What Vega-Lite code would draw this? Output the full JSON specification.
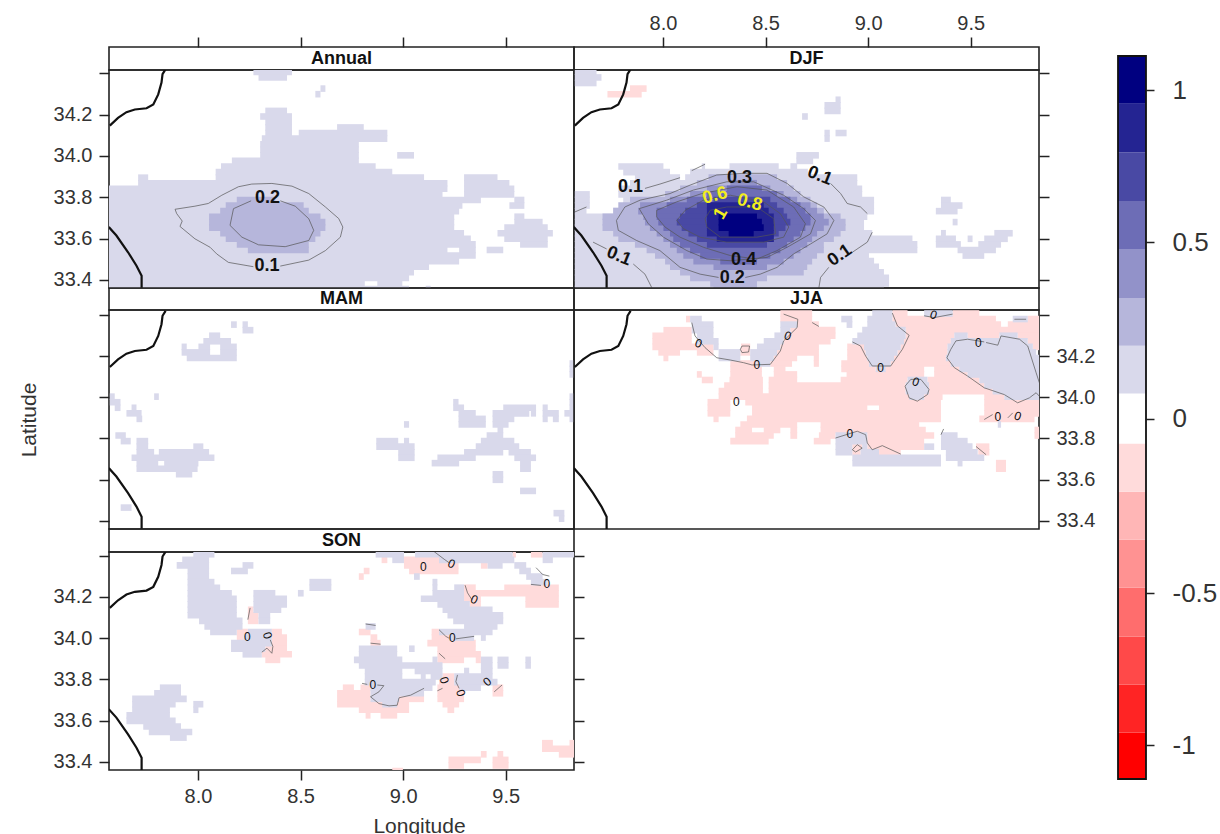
{"$schema":"https://vega.github.io/schema/vega-lite/v6.json","padding":{"left":17,"top":12,"right":0,"bottom":0},"background":"white",
"config":{"view":{"stroke":"#222","strokeWidth":1.6},"axis":{"domain":false,"grid":false,"ticks":true,"tickColor":"#222","tickWidth":1.5,"tickSize":10,"labelFont":"Liberation Sans","labelFontSize":20,"labelColor":"#333","titleFont":"Liberation Sans","titleFontSize":21,"titleFontWeight":"normal","titleColor":"#333","labelPadding":4},"text":{"font":"Liberation Sans"}},
"datasets":{
"A":[
{"lat":34.407,"lon":[8.27],"lon2":[8.458],"v":0.07},{"lat":34.38,"lon":[8.295],"lon2":[8.434],"v":0.07},{"lat":34.326,"lon":[8.597],"lon2":[8.621],"v":0.07},{"lat":34.299,"lon":[8.572],"lon2":[8.597],"v":0.07},{"lat":34.218,"lon":[8.328],"lon2":[8.434],"v":0.07},{"lat":34.191,"lon":[8.303],"lon2":[8.458],"v":0.07},{"lat":34.164,"lon":[8.328],"lon2":[8.458],"v":0.07},{"lat":34.138,"lon":[8.328,8.678],"lon2":[8.458,8.808],"v":0.07},{"lat":34.111,"lon":[8.328,8.491],"lon2":[8.458,8.923],"v":0.07},{"lat":34.084,"lon":[8.311],"lon2":[8.923],"v":0.07},{"lat":34.057,"lon":[8.303],"lon2":[8.784],"v":0.07},{"lat":34.03,"lon":[8.303],"lon2":[8.784],"v":0.07},{"lat":34.003,"lon":[8.303,8.971],"lon2":[8.784,9.053],"v":0.07},{"lat":33.976,"lon":[8.165],"lon2":[8.784],"v":0.07},{"lat":33.949,"lon":[8.112],"lon2":[8.866],"v":0.07},{"lat":33.922,"lon":[8.086],"lon2":[8.947],"v":0.07},{"lat":33.895,"lon":[7.708,8.086,9.297],"lon2":[7.757,9.102,9.46],"v":0.07},{"lat":33.868,"lon":[7.708,9.297],"lon2":[9.216,9.518],"v":0.07},{"lat":33.841,"lon":[7.565,9.297],"lon2":[9.216,9.542],"v":0.07},{"lat":33.814,"lon":[7.565,9.297],"lon2":[9.192,9.542],"v":0.07},{"lat":33.787,"lon":[7.565,9.542],"lon2":[9.379,9.591],"v":0.07},{"lat":33.76,"lon":[7.565,9.518],"lon2":[9.289,9.591],"v":0.07},{"lat":33.733,"lon":[7.565],"lon2":[9.273],"v":0.07},{"lat":33.706,"lon":[7.565,9.542],"lon2":[9.249,9.591],"v":0.07},{"lat":33.68,"lon":[7.565,9.542],"lon2":[9.249,9.68],"v":0.07},{"lat":33.653,"lon":[7.565,9.493],"lon2":[9.249,9.705],"v":0.07},{"lat":33.626,"lon":[7.565,9.46],"lon2":[9.297,9.73],"v":0.07},{"lat":33.599,"lon":[7.565,9.493],"lon2":[9.33,9.705],"v":0.07},{"lat":33.572,"lon":[7.565,9.57],"lon2":[9.354,9.705],"v":0.07},{"lat":33.545,"lon":[7.565,9.273,9.407],"lon2":[9.216,9.354,9.488],"v":0.07},{"lat":33.518,"lon":[7.565],"lon2":[9.354],"v":0.07},{"lat":33.491,"lon":[7.565],"lon2":[9.273],"v":0.07},{"lat":33.464,"lon":[7.565],"lon2":[9.126],"v":0.07},{"lat":33.437,"lon":[7.565],"lon2":[9.053],"v":0.07},{"lat":33.41,"lon":[7.565],"lon2":[9.029],"v":0.07},{"lat":33.383,"lon":[7.565,8.874],"lon2":[8.813,8.996],"v":0.07},{"lat":33.356,"lon":[7.565,9.11],"lon2":[9.029,9.134],"v":0.07},
{"lat":33.787,"lon":[8.189],"lon2":[8.377],"v":0.15},{"lat":33.76,"lon":[8.135],"lon2":[8.515],"v":0.15},{"lat":33.733,"lon":[8.108],"lon2":[8.54],"v":0.15},{"lat":33.706,"lon":[8.054],"lon2":[8.597],"v":0.15},{"lat":33.68,"lon":[8.054],"lon2":[8.621],"v":0.15},{"lat":33.653,"lon":[8.054],"lon2":[8.621],"v":0.15},{"lat":33.626,"lon":[8.108],"lon2":[8.597],"v":0.15},{"lat":33.599,"lon":[8.135],"lon2":[8.572],"v":0.15},{"lat":33.572,"lon":[8.189],"lon2":[8.54],"v":0.15},{"lat":33.545,"lon":[8.243],"lon2":[8.54],"v":0.15}],
"D":[
{"lat":34.407,"lon":[7.57],"lon2":[7.676],"v":0.07},{"lat":34.38,"lon":[7.57],"lon2":[7.7],"v":0.07},{"lat":34.353,"lon":[7.57],"lon2":[7.676],"v":0.07},{"lat":34.326,"lon":[7.839],"lon2":[7.92],"v":-0.07},{"lat":34.299,"lon":[7.729],"lon2":[7.896],"v":-0.07},{"lat":34.272,"lon":[8.841],"lon2":[8.866],"v":0.07},{"lat":34.245,"lon":[8.787],"lon2":[8.866],"v":0.07},{"lat":34.218,"lon":[8.787],"lon2":[8.866],"v":0.07},{"lat":34.191,"lon":[8.678],"lon2":[8.706],"v":0.07},{"lat":34.111,"lon":[8.787,8.841],"lon2":[8.813,8.895],"v":0.07},{"lat":34.084,"lon":[8.787],"lon2":[8.813],"v":0.07},{"lat":34.003,"lon":[8.65],"lon2":[8.76],"v":0.07},{"lat":33.976,"lon":[8.65],"lon2":[8.732],"v":0.07},{"lat":33.949,"lon":[7.782,8.189,8.324,8.621],"lon2":[8.002,8.205,8.564,8.654],"v":0.07},{"lat":33.922,"lon":[7.806,8.132],"lon2":[8.034,8.706],"v":0.07},{"lat":33.895,"lon":[7.863,8.108],"lon2":[8.083,8.947],"v":0.07},{"lat":33.868,"lon":[7.839],"lon2":[8.947],"v":0.07},{"lat":33.841,"lon":[7.782],"lon2":[8.971],"v":0.07},{"lat":33.814,"lon":[7.57,7.782],"lon2":[7.643,8.971],"v":0.07},{"lat":33.787,"lon":[7.57,7.806,9.355],"lon2":[7.643,9.029,9.403],"v":0.07},{"lat":33.76,"lon":[7.57,7.806,9.355],"lon2":[7.643,9.029,9.46],"v":0.07},{"lat":33.733,"lon":[7.57,7.757,9.33],"lon2":[7.627,9.029,9.436],"v":0.07},{"lat":33.706,"lon":[7.57],"lon2":[8.996],"v":0.07},{"lat":33.68,"lon":[7.57,9.412],"lon2":[8.98,9.436],"v":0.07},{"lat":33.653,"lon":[7.57],"lon2":[8.98],"v":0.07},{"lat":33.626,"lon":[7.57,9.355,9.615],"lon2":[9.02,9.379,9.705],"v":0.07},{"lat":33.599,"lon":[7.57,9.33,9.485,9.566],"lon2":[9.216,9.428,9.509,9.681],"v":0.07},{"lat":33.572,"lon":[7.57,9.33,9.537],"lon2":[9.24,9.452,9.648],"v":0.07},{"lat":33.545,"lon":[7.57,9.436],"lon2":[9.24,9.623],"v":0.07},{"lat":33.518,"lon":[7.57,9.46],"lon2":[9.004,9.566],"v":0.07},{"lat":33.491,"lon":[7.57],"lon2":[9.029],"v":0.07},{"lat":33.464,"lon":[7.57],"lon2":[9.053],"v":0.07},{"lat":33.437,"lon":[7.57],"lon2":[9.077],"v":0.07},{"lat":33.41,"lon":[7.57],"lon2":[9.102],"v":0.07},{"lat":33.383,"lon":[7.57],"lon2":[9.102],"v":0.07},{"lat":33.356,"lon":[7.57],"lon2":[9.077],"v":0.07},
{"lat":33.895,"lon":[8.222],"lon2":[8.556],"v":0.15},{"lat":33.868,"lon":[8.165],"lon2":[8.605],"v":0.15},{"lat":33.841,"lon":[8.083],"lon2":[8.637],"v":0.15},{"lat":33.814,"lon":[8.01],"lon2":[8.67],"v":0.15},{"lat":33.787,"lon":[7.839],"lon2":[8.719],"v":0.15},{"lat":33.76,"lon":[7.782],"lon2":[8.751],"v":0.15},{"lat":33.733,"lon":[7.757],"lon2":[8.784],"v":0.15},{"lat":33.706,"lon":[7.705],"lon2":[8.866],"v":0.15},{"lat":33.68,"lon":[7.705],"lon2":[8.89],"v":0.15},{"lat":33.653,"lon":[7.705],"lon2":[8.89],"v":0.15},{"lat":33.626,"lon":[7.757],"lon2":[8.866],"v":0.15},{"lat":33.599,"lon":[7.782],"lon2":[8.833],"v":0.15},{"lat":33.572,"lon":[7.863],"lon2":[8.784],"v":0.15},{"lat":33.545,"lon":[7.92],"lon2":[8.784],"v":0.15},{"lat":33.518,"lon":[7.961],"lon2":[8.751],"v":0.15},{"lat":33.491,"lon":[8.01],"lon2":[8.727],"v":0.15},{"lat":33.464,"lon":[8.034],"lon2":[8.703],"v":0.15},{"lat":33.437,"lon":[8.083],"lon2":[8.686],"v":0.15},{"lat":33.41,"lon":[8.132],"lon2":[8.507],"v":0.15},{"lat":33.383,"lon":[8.23],"lon2":[8.458],"v":0.15},{"lat":33.356,"lon":[8.246],"lon2":[8.458],"v":0.15},
{"lat":33.868,"lon":[8.328],"lon2":[8.458],"v":0.3},{"lat":33.841,"lon":[8.214],"lon2":[8.523],"v":0.3},{"lat":33.814,"lon":[8.132],"lon2":[8.588],"v":0.3},{"lat":33.787,"lon":[8.034],"lon2":[8.654],"v":0.3},{"lat":33.76,"lon":[7.888],"lon2":[8.719],"v":0.3},{"lat":33.733,"lon":[7.879],"lon2":[8.751],"v":0.3},{"lat":33.706,"lon":[7.904],"lon2":[8.784],"v":0.3},{"lat":33.68,"lon":[7.912],"lon2":[8.808],"v":0.3},{"lat":33.653,"lon":[7.936],"lon2":[8.784],"v":0.3},{"lat":33.626,"lon":[7.969],"lon2":[8.751],"v":0.3},{"lat":33.599,"lon":[8.002],"lon2":[8.727],"v":0.3},{"lat":33.572,"lon":[8.034],"lon2":[8.703],"v":0.3},{"lat":33.545,"lon":[8.067],"lon2":[8.67],"v":0.3},{"lat":33.518,"lon":[8.099],"lon2":[8.637],"v":0.3},{"lat":33.491,"lon":[8.148],"lon2":[8.588],"v":0.3},{"lat":33.464,"lon":[8.246],"lon2":[8.507],"v":0.3},
{"lat":33.841,"lon":[8.311],"lon2":[8.482],"v":0.5},{"lat":33.814,"lon":[8.214],"lon2":[8.556],"v":0.5},{"lat":33.787,"lon":[8.116],"lon2":[8.621],"v":0.5},{"lat":33.76,"lon":[8.018],"lon2":[8.67],"v":0.5},{"lat":33.733,"lon":[7.969],"lon2":[8.694],"v":0.5},{"lat":33.706,"lon":[7.969],"lon2":[8.719],"v":0.5},{"lat":33.68,"lon":[7.977],"lon2":[8.719],"v":0.5},{"lat":33.653,"lon":[8.002],"lon2":[8.694],"v":0.5},{"lat":33.626,"lon":[8.034],"lon2":[8.67],"v":0.5},{"lat":33.599,"lon":[8.05],"lon2":[8.637],"v":0.5},{"lat":33.572,"lon":[8.083],"lon2":[8.605],"v":0.5},{"lat":33.545,"lon":[8.132],"lon2":[8.572],"v":0.5},{"lat":33.518,"lon":[8.181],"lon2":[8.523],"v":0.5},{"lat":33.491,"lon":[8.279],"lon2":[8.458],"v":0.5},
{"lat":33.787,"lon":[8.246],"lon2":[8.523],"v":0.7},{"lat":33.76,"lon":[8.165],"lon2":[8.556],"v":0.7},{"lat":33.733,"lon":[8.108],"lon2":[8.588],"v":0.7},{"lat":33.706,"lon":[8.083],"lon2":[8.605],"v":0.7},{"lat":33.68,"lon":[8.067],"lon2":[8.621],"v":0.7},{"lat":33.653,"lon":[8.091],"lon2":[8.597],"v":0.7},{"lat":33.626,"lon":[8.124],"lon2":[8.564],"v":0.7},{"lat":33.599,"lon":[8.165],"lon2":[8.54],"v":0.7},{"lat":33.572,"lon":[8.214],"lon2":[8.507],"v":0.7},
{"lat":33.76,"lon":[8.214],"lon2":[8.491],"v":0.9},{"lat":33.733,"lon":[8.214],"lon2":[8.515],"v":0.9},{"lat":33.706,"lon":[8.214],"lon2":[8.54],"v":0.9},{"lat":33.68,"lon":[8.214],"lon2":[8.54],"v":0.9},{"lat":33.653,"lon":[8.214],"lon2":[8.54],"v":0.9},{"lat":33.626,"lon":[8.214],"lon2":[8.54],"v":0.9},{"lat":33.599,"lon":[8.262],"lon2":[8.54],"v":0.9},
{"lat":33.706,"lon":[8.271],"lon2":[8.458],"v":1.05},{"lat":33.68,"lon":[8.271],"lon2":[8.482],"v":1.05},{"lat":33.653,"lon":[8.271],"lon2":[8.491],"v":1.05},{"lat":33.626,"lon":[8.32],"lon2":[8.442],"v":1.05}],
"M":[
{"lat":34.353,"lon":[8.161,8.217],"lon2":[8.189,8.243],"v":0.07},{"lat":34.326,"lon":[8.217],"lon2":[8.27],"v":0.07},{"lat":34.299,"lon":[8.054],"lon2":[8.108],"v":0.07},{"lat":34.272,"lon":[8.026],"lon2":[8.161],"v":0.07},{"lat":34.245,"lon":[7.92,8.002,8.108],"lon2":[7.945,8.059,8.189],"v":0.07},{"lat":34.218,"lon":[7.92,8.108],"lon2":[8.059,8.189],"v":0.07},{"lat":34.191,"lon":[7.945],"lon2":[8.189],"v":0.07},{"lat":34.164,"lon":[9.811],"lon2":[9.84],"v":0.07},{"lat":34.138,"lon":[9.811],"lon2":[9.84],"v":0.07},{"lat":34.111,"lon":[9.811],"lon2":[9.84],"v":0.07},{"lat":34.003,"lon":[7.57,7.786,9.811],"lon2":[7.594,7.809,9.84],"v":0.07},{"lat":33.976,"lon":[7.57,9.244,9.811],"lon2":[7.622,9.27,9.84],"v":0.07},{"lat":33.949,"lon":[7.594,7.676,9.244,9.488,9.68,9.811],"lon2":[7.622,7.7,9.297,9.648,9.705,9.84],"v":0.07},{"lat":33.922,"lon":[7.651,9.27,9.436,9.623,9.68,9.786],"lon2":[7.725,9.354,9.615,9.648,9.759,9.84],"v":0.07},{"lat":33.895,"lon":[7.7,9.27,9.436,9.68,9.73,9.811],"lon2":[7.728,9.403,9.542,9.705,9.759,9.84],"v":0.07},{"lat":33.868,"lon":[9.004,9.27,9.436],"lon2":[9.029,9.403,9.514],"v":0.07},{"lat":33.841,"lon":[9.46],"lon2":[9.488],"v":0.07},{"lat":33.814,"lon":[7.597,9.407],"lon2":[7.648,9.488],"v":0.07},{"lat":33.787,"lon":[7.623,7.7,8.869,9.004,9.379],"lon2":[7.672,7.757,8.976,9.029,9.542],"v":0.07},{"lat":33.76,"lon":[7.7,7.977,8.869,9.354],"lon2":[7.757,8.026,9.056,9.566],"v":0.07},{"lat":33.733,"lon":[7.7,7.809,8.976,9.297,9.514],"lon2":[7.786,8.054,9.056,9.488,9.623],"v":0.07},{"lat":33.706,"lon":[7.676,8.976,9.167,9.542],"lon2":[8.08,9.056,9.354,9.648],"v":0.07},{"lat":33.68,"lon":[7.7,7.835,9.139,9.57],"lon2":[7.806,8.002,9.273,9.623],"v":0.07},{"lat":33.653,"lon":[7.7,9.57],"lon2":[7.998,9.623],"v":0.07},{"lat":33.626,"lon":[7.892,9.436],"lon2":[7.972,9.488],"v":0.07},{"lat":33.599,"lon":[9.436],"lon2":[9.488],"v":0.07},{"lat":33.545,"lon":[9.57],"lon2":[9.648],"v":0.07},{"lat":33.464,"lon":[7.623],"lon2":[7.676],"v":0.07},{"lat":33.437,"lon":[9.733],"lon2":[9.786],"v":0.07},{"lat":33.41,"lon":[9.759],"lon2":[9.786],"v":0.07}],
"J":[
{"lat":34.407,"lon":[8.572,9.118,9.412],"lon2":[8.727,9.192,9.542],"v":-0.07},{"lat":34.38,"lon":[8.112,8.572,9.118,9.778],"lon2":[8.132,8.727,9.623,9.835],"v":-0.07},{"lat":34.353,"lon":[8.654,9.134,9.681],"lon2":[8.76,9.648,9.835],"v":-0.07},{"lat":34.326,"lon":[8.002,8.621,9.183],"lon2":[8.14,8.841,9.835],"v":-0.07},{"lat":34.299,"lon":[7.948,8.605,9.183,9.485,9.729],"lon2":[8.14,8.841,9.42,9.64,9.835],"v":-0.07},{"lat":34.272,"lon":[7.948,8.588,9.175,9.778],"lon2":[8.14,8.817,9.403,9.835],"v":-0.07},{"lat":34.245,"lon":[7.948,8.38,8.572,8.898,9.159,9.803],"lon2":[8.246,8.425,8.76,8.98,9.387,9.835],"v":-0.07},{"lat":34.218,"lon":[7.977,8.165,8.377,8.556,8.898,9.143],"lon2":[8.083,8.246,8.425,8.76,8.988,9.387],"v":-0.07},{"lat":34.191,"lon":[8.002,8.54,8.735,8.898,9.126],"lon2":[8.026,8.654,8.76,8.996,9.379],"v":-0.07},{"lat":34.164,"lon":[8.328,8.523,8.735,8.869,9.11],"lon2":[8.458,8.629,8.76,9.004,9.403],"v":-0.07},{"lat":34.138,"lon":[8.328,8.54,8.869,9.086,9.322],"lon2":[8.482,8.597,9.037,9.273,9.444],"v":-0.07},{"lat":34.111,"lon":[8.165,8.328,8.54,8.895,9.322],"lon2":[8.189,8.482,8.654,9.273,9.485],"v":-0.07},{"lat":34.084,"lon":[8.189,8.324,8.515,8.866,9.289],"lon2":[8.243,8.487,8.654,9.192,9.542],"v":-0.07},{"lat":34.057,"lon":[8.298,8.515,9.297],"lon2":[8.487,9.183,9.566],"v":-0.07},{"lat":34.03,"lon":[8.271,8.515,9.297],"lon2":[8.487,9.183,9.607],"v":-0.07},{"lat":34.003,"lon":[8.271,9.273,9.566],"lon2":[9.2,9.363,9.664],"v":-0.07},{"lat":33.976,"lon":[8.217,8.401,9.566],"lon2":[8.328,9.355,9.835],"v":-0.07},{"lat":33.949,"lon":[8.217,8.434,9.053,9.566],"lon2":[8.328,8.996,9.355,9.835],"v":-0.07},{"lat":33.922,"lon":[8.217,8.434,9.566],"lon2":[8.328,9.355,9.835],"v":-0.07},{"lat":33.895,"lon":[8.246,8.409,9.542],"lon2":[8.271,9.355,9.811],"v":-0.07},{"lat":33.868,"lon":[8.377,8.768],"lon2":[8.654,9.249],"v":-0.07},{"lat":33.841,"lon":[8.352,8.491,8.621,8.768,9.811],"lon2":[8.434,8.572,8.654,9.281,9.835],"v":-0.07},{"lat":33.814,"lon":[8.352,8.621,8.76,8.996,9.811],"lon2":[8.54,8.654,8.841,9.322,9.835],"v":-0.07},{"lat":33.787,"lon":[8.328,8.735,8.996],"lon2":[8.515,8.817,9.273],"v":-0.07},{"lat":33.76,"lon":[8.923,8.996,9.526],"lon2":[8.971,9.273,9.591],"v":-0.07},{"lat":33.733,"lon":[8.923,9.053,9.537],"lon2":[8.963,9.159,9.591],"v":-0.07},{"lat":33.68,"lon":[9.623],"lon2":[9.672],"v":-0.07},{"lat":33.653,"lon":[9.623],"lon2":[9.672],"v":-0.07},
{"lat":34.407,"lon":[9.02,9.273],"lon2":[9.118,9.412],"v":0.07},{"lat":34.38,"lon":[8.132,8.869,8.996,9.705],"lon2":[8.189,8.923,9.118,9.778],"v":0.07},{"lat":34.353,"lon":[8.14,8.572,8.895,8.996],"lon2":[8.246,8.654,8.923,9.134],"v":0.07},{"lat":34.326,"lon":[8.14,8.572,8.971],"lon2":[8.246,8.621,9.183],"v":0.07},{"lat":34.299,"lon":[8.165,8.543,8.947,9.42,9.64],"lon2":[8.246,8.605,9.183,9.485,9.729],"v":0.07},{"lat":34.272,"lon":[8.165,8.491,8.923,9.403],"lon2":[8.271,8.588,9.175,9.778],"v":0.07},{"lat":34.245,"lon":[8.246,8.458,8.98,9.387],"lon2":[8.271,8.572,9.159,9.803],"v":0.07},{"lat":34.218,"lon":[8.271,8.425,8.988,9.387],"lon2":[8.377,8.556,9.143,9.819],"v":0.07},{"lat":34.191,"lon":[8.271,8.425,8.996,9.379],"lon2":[8.377,8.54,9.126,9.835],"v":0.07},{"lat":34.164,"lon":[8.458,9.004,9.403],"lon2":[8.523,9.11,9.835],"v":0.07},{"lat":34.138,"lon":[9.037,9.444],"lon2":[9.086,9.835],"v":0.07},{"lat":34.111,"lon":[9.485],"lon2":[9.835],"v":0.07},{"lat":34.084,"lon":[9.192,9.542],"lon2":[9.289,9.835],"v":0.07},{"lat":34.057,"lon":[9.183,9.566],"lon2":[9.297,9.835],"v":0.07},{"lat":34.03,"lon":[9.183,9.607],"lon2":[9.297,9.835],"v":0.07},{"lat":34.003,"lon":[9.2,9.664],"lon2":[9.273,9.835],"v":0.07},{"lat":33.868,"lon":[9.632],"lon2":[9.648],"v":0.07},{"lat":33.814,"lon":[8.841,9.355],"lon2":[8.996,9.436],"v":0.07},{"lat":33.787,"lon":[8.841,9.355],"lon2":[8.996,9.485],"v":0.07},{"lat":33.76,"lon":[8.841,8.971,9.273,9.355],"lon2":[8.923,8.996,9.322,9.509],"v":0.07},{"lat":33.733,"lon":[8.841,8.963,9.379],"lon2":[8.923,9.053,9.534],"v":0.07},{"lat":33.706,"lon":[8.923,9.379],"lon2":[9.355,9.566],"v":0.07},{"lat":33.68,"lon":[8.923,9.436],"lon2":[9.355,9.46],"v":0.07}],
"S":[
{"lat":34.407,"lon":[9.534,9.623],"lon2":[9.55,9.68],"v":-0.07},{"lat":34.38,"lon":[8.895,9.004],"lon2":[8.923,9.175],"v":-0.07},{"lat":34.353,"lon":[9.004,9.379],"lon2":[9.27,9.412],"v":-0.07},{"lat":34.326,"lon":[8.808,9.029],"lon2":[8.836,9.27],"v":-0.07},{"lat":34.299,"lon":[8.784],"lon2":[8.808],"v":-0.07},{"lat":34.245,"lon":[9.297,9.493],"lon2":[9.354,9.759],"v":-0.07},{"lat":34.218,"lon":[9.297],"lon2":[9.759],"v":-0.07},{"lat":34.191,"lon":[9.297,9.596],"lon2":[9.379,9.759],"v":-0.07},{"lat":34.164,"lon":[9.325,9.596],"lon2":[9.379,9.759],"v":-0.07},{"lat":34.138,"lon":[8.243],"lon2":[8.27],"v":-0.07},{"lat":34.111,"lon":[8.243],"lon2":[8.295],"v":-0.07},{"lat":34.084,"lon":[8.243],"lon2":[8.295],"v":-0.07},{"lat":34.03,"lon":[8.189,8.36,8.784,9.139],"lon2":[8.243,8.409,8.841,9.175],"v":-0.07},{"lat":34.003,"lon":[8.189,8.36,8.841,9.139],"lon2":[8.222,8.434,8.874,9.224],"v":-0.07},{"lat":33.976,"lon":[8.36,8.841,9.118],"lon2":[8.434,8.89,9.354],"v":-0.07},{"lat":33.949,"lon":[8.328,9.167],"lon2":[8.434,9.354],"v":-0.07},{"lat":33.922,"lon":[8.311,9.167],"lon2":[8.458,9.379],"v":-0.07},{"lat":33.895,"lon":[8.328,9.167,9.354],"lon2":[8.401,9.297,9.379],"v":-0.07},{"lat":33.814,"lon":[9.192],"lon2":[9.249],"v":-0.07},{"lat":33.787,"lon":[9.175],"lon2":[9.249],"v":-0.07},{"lat":33.76,"lon":[8.706,8.792,9.167,9.436],"lon2":[8.76,8.841,9.273,9.488],"v":-0.07},{"lat":33.733,"lon":[8.678,9.167,9.436],"lon2":[8.841,9.297,9.488],"v":-0.07},{"lat":33.706,"lon":[8.678,8.98,9.167],"lon2":[8.841,9.102,9.297],"v":-0.07},{"lat":33.68,"lon":[8.678,9.192],"lon2":[9.029,9.273],"v":-0.07},{"lat":33.653,"lon":[8.784,9.216],"lon2":[9.029,9.249],"v":-0.07},{"lat":33.626,"lon":[8.817,8.89],"lon2":[8.841,8.971],"v":-0.07},{"lat":33.491,"lon":[9.677,9.811],"lon2":[9.73,9.84],"v":-0.07},{"lat":33.464,"lon":[9.677],"lon2":[9.84],"v":-0.07},{"lat":33.437,"lon":[9.379,9.46,9.759],"lon2":[9.407,9.488,9.84],"v":-0.07},{"lat":33.41,"lon":[9.221,9.436],"lon2":[9.379,9.514],"v":-0.07},{"lat":33.383,"lon":[9.221,9.436],"lon2":[9.297,9.514],"v":-0.07},{"lat":33.356,"lon":[8.947],"lon2":[8.999],"v":-0.07},
{"lat":34.407,"lon":[7.977,8.866,9.058,9.68],"lon2":[8.08,9.004,9.534,9.84],"v":0.07},{"lat":34.38,"lon":[7.923,8.947,9.175,9.68],"lon2":[8.054,9.004,9.542,9.73],"v":0.07},{"lat":34.353,"lon":[7.896,8.217,9.412,9.542],"lon2":[8.054,8.27,9.485,9.6],"v":0.07},{"lat":34.326,"lon":[7.949,8.161,9.566],"lon2":[8.054,8.243,9.623],"v":0.07},{"lat":34.299,"lon":[7.949,9.053,9.6],"lon2":[8.054,9.081,9.68],"v":0.07},{"lat":34.272,"lon":[7.949,8.543,9.143,9.623],"lon2":[8.08,8.65,9.167,9.705],"v":0.07},{"lat":34.245,"lon":[7.949,8.543,9.143,9.249],"lon2":[8.108,8.65,9.167,9.297],"v":0.07},{"lat":34.218,"lon":[7.949,8.27,8.487,9.143],"lon2":[8.165,8.377,8.515,9.297],"v":0.07},{"lat":34.191,"lon":[7.949,8.27,9.086],"lon2":[8.189,8.434,9.297],"v":0.07},{"lat":34.164,"lon":[7.949,8.27,9.167],"lon2":[8.189,8.434,9.325],"v":0.07},{"lat":34.138,"lon":[7.949,8.27,9.192],"lon2":[8.189,8.406,9.436],"v":0.07},{"lat":34.111,"lon":[7.949,8.295,9.216],"lon2":[8.189,8.352,9.488],"v":0.07},{"lat":34.084,"lon":[8.005,8.295,9.244],"lon2":[8.217,8.352,9.488],"v":0.07},{"lat":34.057,"lon":[8.031,8.817,9.297],"lon2":[8.217,8.866,9.46],"v":0.07},{"lat":34.03,"lon":[8.059,8.243,9.175],"lon2":[8.189,8.36,9.436],"v":0.07},{"lat":34.003,"lon":[8.222,9.224,9.379],"lon2":[8.36,9.346,9.403],"v":0.07},{"lat":33.976,"lon":[8.161],"lon2":[8.36],"v":0.07},{"lat":33.949,"lon":[8.161,8.784,9.029],"lon2":[8.328,8.971,9.056],"v":0.07},{"lat":33.922,"lon":[8.217,8.784],"lon2":[8.311,8.971],"v":0.07},{"lat":33.895,"lon":[8.76,9.143,9.379,9.46,9.596],"lon2":[8.996,9.167,9.436,9.514,9.623],"v":0.07},{"lat":33.868,"lon":[8.784,9.379,9.46,9.596],"lon2":[9.192,9.436,9.514,9.623],"v":0.07},{"lat":33.841,"lon":[8.813,9.056,9.297,9.379],"lon2":[8.996,9.192,9.322,9.436],"v":0.07},{"lat":33.814,"lon":[8.813,9.086,9.134,9.249],"lon2":[8.996,9.11,9.192,9.436],"v":0.07},{"lat":33.787,"lon":[8.813,9.249],"lon2":[9.159,9.46],"v":0.07},{"lat":33.76,"lon":[7.814,8.841,9.273],"lon2":[7.917,9.143,9.379],"v":0.07},{"lat":33.733,"lon":[7.786,8.841],"lon2":[7.917,9.102],"v":0.07},{"lat":33.706,"lon":[7.679,8.841],"lon2":[7.945,8.98],"v":0.07},{"lat":33.68,"lon":[7.679,7.977,8.898],"lon2":[7.891,8.026,8.971],"v":0.07},{"lat":33.653,"lon":[7.679,7.977],"lon2":[7.863,8.002],"v":0.07},{"lat":33.626,"lon":[7.651],"lon2":[7.863],"v":0.07},{"lat":33.599,"lon":[7.651],"lon2":[7.891],"v":0.07},{"lat":33.572,"lon":[7.733],"lon2":[7.917],"v":0.07},{"lat":33.545,"lon":[7.76],"lon2":[7.972],"v":0.07},{"lat":33.518,"lon":[7.863],"lon2":[7.945],"v":0.07}],
"K":[{"id":"n","lon":[7.842,7.827,7.822,7.806,7.782,7.749,7.692,7.651,7.61,7.57],"lat":[34.42,34.396,34.355,34.298,34.249,34.231,34.225,34.212,34.184,34.147]},{"id":"s","lon":[7.565,7.602,7.659,7.7,7.725,7.725],"lat":[33.656,33.615,33.534,33.469,33.42,33.355]}],
"C":[
{"p":"A","id":"a1","lon":[8.401,8.54,8.621,8.694,8.706,8.686,8.621,8.54,8.458,8.36,8.262,8.197,8.116,8.05,7.985,7.888,7.896,7.923,7.912,7.985,8.059,8.091,8.148,8.27],"lat":[33.467,33.496,33.542,33.607,33.656,33.697,33.753,33.818,33.854,33.867,33.864,33.851,33.81,33.77,33.757,33.742,33.721,33.685,33.659,33.599,33.558,33.526,33.485,33.464]},
{"p":"A","id":"a2","lon":[8.259,8.173,8.156,8.214,8.295,8.425,8.54,8.564,8.54,8.474,8.401],"lat":[33.783,33.745,33.664,33.607,33.57,33.561,33.591,33.64,33.696,33.757,33.783]},
{"p":"D","id":"d1","lon":[7.912,7.985,8.083],"lat":[33.843,33.864,33.895]},{"p":"D","id":"d2","lon":[8.14,8.205],"lat":[33.929,33.96]},{"p":"D","id":"d3","lon":[8.817,8.866,8.898,8.963,8.996],"lat":[33.867,33.818,33.77,33.753,33.721]},{"p":"D","id":"d4","lon":[9.02,8.996,8.923],"lat":[33.631,33.583,33.534]},{"p":"D","id":"d5","lon":[8.808,8.768,8.76],"lat":[33.461,33.412,33.363]},{"p":"D","id":"d6","lon":[7.57,7.627],"lat":[33.729,33.753]},{"p":"D","id":"d7","lon":[7.659,7.725],"lat":[33.583,33.55]},{"p":"D","id":"d8","lon":[7.855,7.912,7.945],"lat":[33.477,33.428,33.363]},
{"p":"D","id":"d9","lon":[8.271,8.181,8.083,7.985,7.871,7.782,7.773,7.814,7.888,8.034,8.132,8.262,8.393,8.507,8.605,8.686,8.784,8.833,8.8,8.719,8.637,8.556,8.474,8.401],"lat":[33.412,33.428,33.461,33.542,33.591,33.64,33.688,33.753,33.786,33.818,33.859,33.908,33.916,33.916,33.867,33.802,33.753,33.688,33.623,33.574,33.526,33.461,33.428,33.412]},
{"p":"D","id":"d10","lon":[7.884,8.018,8.148,8.311,8.442,8.588,8.686,8.743,8.719,8.605,8.507,8.328,8.214,8.116,8.002,7.928,7.884],"lat":[33.745,33.786,33.835,33.875,33.875,33.81,33.745,33.688,33.623,33.558,33.509,33.493,33.501,33.542,33.607,33.672,33.745]},
{"p":"D","id":"d11","lon":[7.969,8.067,8.189,8.36,8.507,8.637,8.694,8.67,8.556,8.458,8.328,8.197,8.083,8.01,7.969,7.969],"lat":[33.737,33.778,33.818,33.851,33.835,33.753,33.672,33.607,33.542,33.501,33.518,33.558,33.607,33.656,33.705,33.737]},
{"p":"D","id":"d12","lon":[8.067,8.108,8.197,8.328,8.491,8.572,8.613,8.588,8.491,8.311,8.181,8.099,8.067],"lat":[33.688,33.737,33.786,33.81,33.778,33.721,33.656,33.607,33.583,33.583,33.607,33.648,33.688]},
{"p":"D","id":"d13","lon":[8.205,8.23,8.311,8.458,8.54,8.548,8.458,8.279,8.214,8.205],"lat":[33.696,33.737,33.753,33.753,33.696,33.623,33.607,33.607,33.656,33.696]},
{"p":"J","id":"j1","lon":[8.14,8.156,8.205,8.262,8.328,8.393,8.434,8.523,8.572,8.588,8.654,8.657,8.588],"lat":[34.363,34.298,34.241,34.192,34.181,34.168,34.157,34.16,34.225,34.274,34.339,34.379,34.404]},
{"p":"J","id":"j2","lon":[8.377,8.385,8.417,8.422,8.385,8.377],"lat":[34.233,34.217,34.22,34.249,34.249,34.233]},
{"p":"J","id":"j3","lon":[9.118,9.143,9.2,9.167,9.11,9.02,8.988,8.963,8.923],"lat":[34.409,34.347,34.301,34.233,34.152,34.152,34.2,34.249,34.269]},
{"p":"J","id":"j4","lon":[9.566,9.485,9.428,9.403,9.384,9.42,9.485,9.566,9.664,9.729,9.786,9.819,9.835],"lat":[34.269,34.282,34.274,34.233,34.192,34.144,34.103,34.046,34.013,33.973,33.997,34.022,34.005]},
{"p":"J","id":"j5","lon":[9.835,9.819,9.778,9.738,9.648,9.632,9.575],"lat":[34.07,34.119,34.249,34.282,34.298,34.253,34.266]},
{"p":"J","id":"j6","lon":[9.208,9.18,9.2,9.24,9.289,9.297,9.257,9.208],"lat":[34.087,34.054,33.997,33.981,34.013,34.038,34.087,34.087]},
{"p":"J","id":"j7","lon":[8.841,8.947,8.988,8.996,9.02,9.069,9.159],"lat":[33.802,33.835,33.818,33.778,33.745,33.765,33.724]},
{"p":"J","id":"j8","lon":[8.923,8.947,8.971,8.939,8.923],"lat":[33.745,33.77,33.753,33.734,33.745]},
{"p":"J","id":"j9","lon":[9.273,9.322,9.412],"lat":[34.396,34.387,34.404]},{"p":"J","id":"j10","lon":[9.526,9.575],"lat":[33.761,33.721]},{"p":"J","id":"j11","lon":[9.355,9.368],"lat":[33.818,33.846]},{"p":"J","id":"j12","lon":[9.713,9.77],"lat":[34.379,34.379]},{"p":"J","id":"j13","lon":[9.566,9.607],"lat":[33.892,33.916]},{"p":"J","id":"j14","lon":[9.681,9.705],"lat":[33.9,33.924]},{"p":"J","id":"j15","lon":[8.727,8.76],"lat":[34.363,34.344]},
{"p":"S","id":"s1","lon":[9.151,9.2,9.224],"lat":[34.42,34.383,34.366]},{"p":"S","id":"s2","lon":[9.302,9.314,9.335],"lat":[34.257,34.22,34.187]},{"p":"S","id":"s3","lon":[9.648,9.68,9.713],"lat":[34.342,34.309,34.301]},{"p":"S","id":"s4","lon":[9.623,9.672],"lat":[34.261,34.256]},{"p":"S","id":"s5","lon":[9.175,9.208,9.224],"lat":[34.041,34.009,34.0]},{"p":"S","id":"s6","lon":[9.257,9.346],"lat":[33.997,34.009]},{"p":"S","id":"s7","lon":[8.8,8.825],"lat":[33.781,33.776]},
{"p":"S","id":"s8","lon":[8.874,8.906,8.882,8.841,8.882,8.931,8.971,8.98,9.037,9.102],"lat":[33.773,33.77,33.74,33.716,33.683,33.672,33.675,33.711,33.724,33.757]},
{"p":"S","id":"s9","lon":[8.311,8.336,8.36,8.365,8.352],"lat":[33.932,33.952,33.927,33.96,33.992]},{"p":"S","id":"s10","lon":[9.444,9.482],"lat":[33.74,33.773]},{"p":"S","id":"s11","lon":[8.817,8.866],"lat":[34.069,34.062]},{"p":"S","id":"s12","lon":[8.841,8.89],"lat":[33.976,33.971]},{"p":"S","id":"s13","lon":[8.243,8.254],"lat":[34.09,34.147]},{"p":"S","id":"s14","lon":[9.265,9.257,9.273],"lat":[33.822,33.789,33.757]},{"p":"S","id":"s15","lon":[9.192,9.167],"lat":[33.757,33.745]},{"p":"S","id":"s16","lon":[9.175,9.205],"lat":[33.927,33.9]}],
"B":[{"lo":-1.2,"hi":-0.95,"v":-1.05},{"lo":-0.95,"hi":-0.8,"v":-0.9},{"lo":-0.8,"hi":-0.6,"v":-0.7},{"lo":-0.6,"hi":-0.4,"v":-0.5},{"lo":-0.4,"hi":-0.2,"v":-0.3},{"lo":-0.2,"hi":-0.1,"v":-0.15},{"lo":-0.1,"hi":-0.05,"v":-0.07},{"lo":-0.05,"hi":0.05,"v":0},{"lo":0.05,"hi":0.1,"v":0.07},{"lo":0.1,"hi":0.2,"v":0.15},{"lo":0.2,"hi":0.4,"v":0.3},{"lo":0.4,"hi":0.6,"v":0.5},{"lo":0.6,"hi":0.8,"v":0.7},{"lo":0.8,"hi":0.95,"v":0.9},{"lo":0.95,"hi":1.2,"v":1.05}]
},
"hconcat":[
{"columns":2,"spacing":0,"bounds":"flush","align":"each","concat":[
{"width":465,"height":23,"data":{"values":[{"lon":8.7,"t":"Annual"}]},"mark":{"type":"text","fontWeight":"bold","fontSize":18,"color":"#111"},"encoding":{"text":{"field":"t"},"x":{"field":"lon","type":"quantitative","scale":{"domain":[7.566,9.833],"nice":false,"zero":false},"axis":{"orient":"top","values":[8,8.5,9,9.5],"labels":false,"title":null}}}},
{"width":465,"height":23,"data":{"values":[{"lon":8.7,"t":"DJF"}]},"mark":{"type":"text","fontWeight":"bold","fontSize":18,"color":"#111"},"encoding":{"text":{"field":"t"},"x":{"field":"lon","type":"quantitative","scale":{"domain":[7.566,9.833],"nice":false,"zero":false},"axis":{"orient":"top","values":[8,8.5,9,9.5],"format":".1f","title":null}}}},
{"width":465,"height":218,"encoding":{"x":{"field":"lon","type":"quantitative","scale":{"domain":[7.566,9.833],"nice":false,"zero":false},"axis":null},"y":{"field":"lat","type":"quantitative","scale":{"domain":[33.361,34.416],"nice":false,"zero":false},"axis":{"orient":"left","values":[33.4,33.6,33.8,34,34.2,34.4],"labelPadding":7,"labelExpr":"datum.value>34.3?'':format(datum.value,'.1f')","title":null}}},
"layer":[
{"data":{"name":"A"},"transform":[{"flatten":["lon","lon2"]}],"mark":{"type":"rect","height":6.6,"clip":true},"encoding":{"x2":{"field":"lon2"},"color":{"field":"v","type":"quantitative","legend":null,"scale":{"type":"threshold","domain":[-0.95,-0.8,-0.6,-0.4,-0.2,-0.1,-0.05,0.05,0.1,0.2,0.4,0.6,0.8,0.95],"range":["#ff0000","#ff2424","#ff4949","#ff6d6d","#ff9292","#ffb6b6","#ffdbdb","#ffffff","#d9d9eb","#b6b6db","#9292c9","#6d6db6","#4949a4","#242492","#000080"]}}}},
{"data":{"name":"C"},"transform":[{"filter":"datum.p=='A'"},{"flatten":["lon","lat"]},{"window":[{"op":"row_number","as":"o"}]}],"mark":{"type":"line","stroke":"#555","strokeWidth":0.7,"clip":true},"encoding":{"detail":{"field":"id"},"order":{"field":"o"}}},
{"data":{"name":"K"},"transform":[{"flatten":["lon","lat"]},{"window":[{"op":"row_number","as":"o"}]}],"mark":{"type":"line","stroke":"#111","strokeWidth":2.2,"clip":true},"encoding":{"detail":{"field":"id"},"order":{"field":"o"}}},
{"data":{"values":[{"lon":8.339,"lat":33.797,"t":"0.2"},{"lon":8.336,"lat":33.467,"t":"0.1"}]},"mark":{"type":"text","fontSize":18,"fontWeight":"bold","color":"#111"},"encoding":{"text":{"field":"t"}}}
]},
{"width":465,"height":218,"encoding":{"x":{"field":"lon","type":"quantitative","scale":{"domain":[7.566,9.833],"nice":false,"zero":false},"axis":null},"y":{"field":"lat","type":"quantitative","scale":{"domain":[33.361,34.416],"nice":false,"zero":false},"axis":{"orient":"right","values":[33.4,33.6,33.8,34,34.2,34.4],"labels":false,"title":null}}},
"layer":[
{"data":{"name":"D"},"transform":[{"flatten":["lon","lon2"]}],"mark":{"type":"rect","height":6.6,"clip":true},"encoding":{"x2":{"field":"lon2"},"color":{"field":"v","type":"quantitative","legend":null,"scale":{"type":"threshold","domain":[-0.95,-0.8,-0.6,-0.4,-0.2,-0.1,-0.05,0.05,0.1,0.2,0.4,0.6,0.8,0.95],"range":["#ff0000","#ff2424","#ff4949","#ff6d6d","#ff9292","#ffb6b6","#ffdbdb","#ffffff","#d9d9eb","#b6b6db","#9292c9","#6d6db6","#4949a4","#242492","#000080"]}}}},
{"data":{"name":"C"},"transform":[{"filter":"datum.p=='D'"},{"flatten":["lon","lat"]},{"window":[{"op":"row_number","as":"o"}]}],"mark":{"type":"line","stroke":"#555","strokeWidth":0.7,"clip":true},"encoding":{"detail":{"field":"id"},"order":{"field":"o"}}},
{"data":{"name":"K"},"transform":[{"flatten":["lon","lat"]},{"window":[{"op":"row_number","as":"o"}]}],"mark":{"type":"line","stroke":"#111","strokeWidth":2.2,"clip":true},"encoding":{"detail":{"field":"id"},"order":{"field":"o"}}},
{"data":{"values":[{"lon":7.842,"lat":33.848,"t":"0.1"},{"lon":8.373,"lat":33.892,"t":"0.3"},{"lon":8.393,"lat":33.498,"t":"0.4"},{"lon":8.337,"lat":33.409,"t":"0.2"}]},"mark":{"type":"text","fontSize":18,"fontWeight":"bold","color":"#111"},"encoding":{"text":{"field":"t"}}},
{"data":{"values":[{"lon":8.764,"lat":33.903,"t":"0.1"},{"lon":7.785,"lat":33.514,"t":"0.1"}]},"mark":{"type":"text","fontSize":18,"fontWeight":"bold","color":"#111","angle":22},"encoding":{"text":{"field":"t"}}},
{"data":{"values":[{"lon":8.862,"lat":33.518,"t":"0.1"}]},"mark":{"type":"text","fontSize":18,"fontWeight":"bold","color":"#111","angle":-35},"encoding":{"text":{"field":"t"}}},
{"data":{"values":[{"lon":8.254,"lat":33.807,"t":"0.6"}]},"mark":{"type":"text","fontSize":18,"fontWeight":"bold","color":"#f2ee1e","angle":-15},"encoding":{"text":{"field":"t"}}},
{"data":{"values":[{"lon":8.422,"lat":33.774,"t":"0.8"}]},"mark":{"type":"text","fontSize":18,"fontWeight":"bold","color":"#f2ee1e","angle":15},"encoding":{"text":{"field":"t"}}},
{"data":{"values":[{"lon":8.282,"lat":33.721,"t":"1"}]},"mark":{"type":"text","fontSize":18,"fontWeight":"bold","color":"#f2ee1e","angle":-60},"encoding":{"text":{"field":"t"}}}
]},
{"width":465,"height":22,"data":{"values":[{"lon":8.7,"t":"MAM"}]},"mark":{"type":"text","fontWeight":"bold","fontSize":18,"color":"#111"},"encoding":{"text":{"field":"t"},"x":{"field":"lon","type":"quantitative","scale":{"domain":[7.566,9.833],"nice":false,"zero":false},"axis":null}}},
{"width":465,"height":22,"data":{"values":[{"lon":8.7,"t":"JJA"}]},"mark":{"type":"text","fontWeight":"bold","fontSize":18,"color":"#111"},"encoding":{"text":{"field":"t"},"x":{"field":"lon","type":"quantitative","scale":{"domain":[7.566,9.833],"nice":false,"zero":false},"axis":null}}},
{"width":465,"height":219,"encoding":{"x":{"field":"lon","type":"quantitative","scale":{"domain":[7.566,9.833],"nice":false,"zero":false},"axis":null},"y":{"field":"lat","type":"quantitative","scale":{"domain":[33.36,34.424],"nice":false,"zero":false},"axis":{"orient":"left","values":[33.4,33.6,33.8,34,34.2,34.4],"labels":false,"title":"Latitude","titlePadding":59}}},
"layer":[
{"data":{"name":"M"},"transform":[{"flatten":["lon","lon2"]}],"mark":{"type":"rect","height":6.6,"clip":true},"encoding":{"x2":{"field":"lon2"},"color":{"field":"v","type":"quantitative","legend":null,"scale":{"type":"threshold","domain":[-0.95,-0.8,-0.6,-0.4,-0.2,-0.1,-0.05,0.05,0.1,0.2,0.4,0.6,0.8,0.95],"range":["#ff0000","#ff2424","#ff4949","#ff6d6d","#ff9292","#ffb6b6","#ffdbdb","#ffffff","#d9d9eb","#b6b6db","#9292c9","#6d6db6","#4949a4","#242492","#000080"]}}}},
{"data":{"name":"K"},"transform":[{"flatten":["lon","lat"]},{"window":[{"op":"row_number","as":"o"}]}],"mark":{"type":"line","stroke":"#111","strokeWidth":2.2,"clip":true},"encoding":{"detail":{"field":"id"},"order":{"field":"o"}}}
]},
{"width":465,"height":219,"encoding":{"x":{"field":"lon","type":"quantitative","scale":{"domain":[7.566,9.833],"nice":false,"zero":false},"axis":null},"y":{"field":"lat","type":"quantitative","scale":{"domain":[33.36,34.424],"nice":false,"zero":false},"axis":{"orient":"right","values":[33.4,33.6,33.8,34,34.2,34.4],"labelPadding":7,"labelExpr":"datum.value>34.3?'':format(datum.value,'.1f')","title":null}}},
"layer":[
{"data":{"name":"J"},"transform":[{"flatten":["lon","lon2"]}],"mark":{"type":"rect","height":6.6,"clip":true},"encoding":{"x2":{"field":"lon2"},"color":{"field":"v","type":"quantitative","legend":null,"scale":{"type":"threshold","domain":[-0.95,-0.8,-0.6,-0.4,-0.2,-0.1,-0.05,0.05,0.1,0.2,0.4,0.6,0.8,0.95],"range":["#ff0000","#ff2424","#ff4949","#ff6d6d","#ff9292","#ffb6b6","#ffdbdb","#ffffff","#d9d9eb","#b6b6db","#9292c9","#6d6db6","#4949a4","#242492","#000080"]}}}},
{"data":{"name":"C"},"transform":[{"filter":"datum.p=='J'"},{"flatten":["lon","lat"]},{"window":[{"op":"row_number","as":"o"}]}],"mark":{"type":"line","stroke":"#555","strokeWidth":0.7,"clip":true},"encoding":{"detail":{"field":"id"},"order":{"field":"o"}}},
{"data":{"name":"K"},"transform":[{"flatten":["lon","lat"]},{"window":[{"op":"row_number","as":"o"}]}],"mark":{"type":"line","stroke":"#111","strokeWidth":2.2,"clip":true},"encoding":{"detail":{"field":"id"},"order":{"field":"o"}}},
{"data":{"values":[{"lon":8.458,"lat":34.157,"t":"0"},{"lon":9.061,"lat":34.14,"t":"0"},{"lon":8.357,"lat":33.978,"t":"0"},{"lon":9.537,"lat":34.262,"t":"0"},{"lon":8.911,"lat":33.823,"t":"0"},{"lon":9.632,"lat":33.905,"t":"0"}]},"mark":{"type":"text","fontSize":12,"color":"#111"},"encoding":{"text":{"field":"t"}}},
{"data":{"values":[{"lon":8.173,"lat":34.262,"t":"0"},{"lon":8.608,"lat":34.298,"t":"0"},{"lon":9.232,"lat":34.075,"t":"0"},{"lon":9.319,"lat":34.4,"t":"0"},{"lon":9.729,"lat":33.908,"t":"0"}]},"mark":{"type":"text","fontSize":12,"color":"#111","angle":20},"encoding":{"text":{"field":"t"}}}
]},
{"width":465,"height":23,"data":{"values":[{"lon":8.7,"t":"SON"}]},"mark":{"type":"text","fontWeight":"bold","fontSize":18,"color":"#111"},"encoding":{"text":{"field":"t"},"x":{"field":"lon","type":"quantitative","scale":{"domain":[7.566,9.833],"nice":false,"zero":false},"axis":null}}},
{"width":465,"height":23,"view":{"stroke":null},"data":{"values":[{"lon":8.7}]},"mark":{"type":"point","opacity":0},"encoding":{"x":{"field":"lon","type":"quantitative","axis":null}}},
{"width":465,"height":218,"encoding":{"x":{"field":"lon","type":"quantitative","scale":{"domain":[7.566,9.833],"nice":false,"zero":false},"axis":{"orient":"bottom","values":[8,8.5,9,9.5],"format":".1f","title":"Longitude","titleX":310,"titlePadding":9,"labelPadding":6}},"y":{"field":"lat","type":"quantitative","scale":{"domain":[33.361,34.418],"nice":false,"zero":false},"axis":{"orient":"left","values":[33.4,33.6,33.8,34,34.2,34.4],"labelPadding":7,"labelExpr":"datum.value>34.3?'':format(datum.value,'.1f')","title":null}}},
"layer":[
{"data":{"name":"S"},"transform":[{"flatten":["lon","lon2"]}],"mark":{"type":"rect","height":6.6,"clip":true},"encoding":{"x2":{"field":"lon2"},"color":{"field":"v","type":"quantitative","legend":null,"scale":{"type":"threshold","domain":[-0.95,-0.8,-0.6,-0.4,-0.2,-0.1,-0.05,0.05,0.1,0.2,0.4,0.6,0.8,0.95],"range":["#ff0000","#ff2424","#ff4949","#ff6d6d","#ff9292","#ffb6b6","#ffdbdb","#ffffff","#d9d9eb","#b6b6db","#9292c9","#6d6db6","#4949a4","#242492","#000080"]}}}},
{"data":{"name":"C"},"transform":[{"filter":"datum.p=='S'"},{"flatten":["lon","lat"]},{"window":[{"op":"row_number","as":"o"}]}],"mark":{"type":"line","stroke":"#555","strokeWidth":0.7,"clip":true},"encoding":{"detail":{"field":"id"},"order":{"field":"o"}}},
{"data":{"name":"K"},"transform":[{"flatten":["lon","lat"]},{"window":[{"op":"row_number","as":"o"}]}],"mark":{"type":"line","stroke":"#111","strokeWidth":2.2,"clip":true},"encoding":{"detail":{"field":"id"},"order":{"field":"o"}}},
{"data":{"values":[{"lon":8.24,"lat":34.005,"t":"0"},{"lon":8.852,"lat":33.773,"t":"0"},{"lon":9.099,"lat":34.345,"t":"0"},{"lon":9.7,"lat":34.261,"t":"0"},{"lon":9.24,"lat":34.0,"t":"0"}]},"mark":{"type":"text","fontSize":12,"color":"#111"},"encoding":{"text":{"field":"t"}}},
{"data":{"values":[{"lon":9.236,"lat":34.361,"t":"0"},{"lon":9.346,"lat":34.187,"t":"0"}]},"mark":{"type":"text","fontSize":12,"color":"#111","angle":25},"encoding":{"text":{"field":"t"}}},
{"data":{"values":[{"lon":8.339,"lat":34.013,"t":"0"},{"lon":9.2,"lat":33.797,"t":"0"},{"lon":9.281,"lat":33.735,"t":"0"}]},"mark":{"type":"text","fontSize":12,"color":"#111","angle":75},"encoding":{"text":{"field":"t"}}},
{"data":{"values":[{"lon":9.41,"lat":33.789,"t":"0"}]},"mark":{"type":"text","fontSize":12,"color":"#111","angle":-40},"encoding":{"text":{"field":"t"}}}
]},
{"width":465,"height":218,"view":{"stroke":null},"data":{"values":[{"lat":34}]},"mark":{"type":"point","opacity":0},"encoding":{"y":{"field":"lat","type":"quantitative","scale":{"domain":[33.361,34.418],"nice":false,"zero":false},"axis":{"orient":"left","values":[33.4,33.6,33.8,34,34.2,34.4],"labels":false,"tickSize":-10,"title":null}}}}
]},
{"width":28,"height":732,"view":{"stroke":null},"data":{"name":"B"},"encoding":{"y":{"field":"lo","type":"quantitative","scale":{"domain":[-1.2,-1,-0.95,-0.8,-0.6,-0.5,-0.4,-0.2,-0.1,-0.05,0,0.05,0.1,0.2,0.4,0.5,0.6,0.8,0.95,1,1.2],"range":[732,698,685.4,637.5,589.5,546,540.7,492.8,444.8,396.5,371.5,346.6,298.7,251,202,195,154,105.6,56.7,43,9],"zero":false,"nice":false},"axis":{"orient":"right","values":[-1,-0.5,0,0.5,1],"labelExpr":"datum.value+''","labelFontSize":26,"labelAlign":"left","labelPadding":18,"tickSize":8,"title":null}},"y2":{"field":"hi"}},
"layer":[
{"mark":{"type":"rect"},"encoding":{"color":{"field":"v","type":"quantitative","legend":null,"scale":{"type":"threshold","domain":[-0.95,-0.8,-0.6,-0.4,-0.2,-0.1,-0.05,0.05,0.1,0.2,0.4,0.6,0.8,0.95],"range":["#ff0000","#ff2424","#ff4949","#ff6d6d","#ff9292","#ffb6b6","#ffdbdb","#ffffff","#d9d9eb","#b6b6db","#9292c9","#6d6db6","#4949a4","#242492","#000080"]}}}},
{"data":{"values":[{"lo":-1.2,"hi":1.2}]},"mark":{"type":"rect","fill":null,"stroke":"#111","strokeWidth":1.8}}
]}
],"spacing":21}
